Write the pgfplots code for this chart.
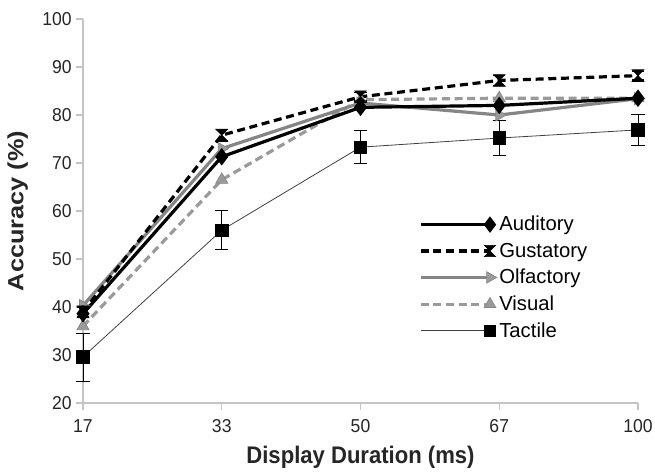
\documentclass[border=0pt]{standalone}
\usepackage{pgfplots}
\pgfplotsset{compat=1.18}
\usepackage{fontspec}
\setmainfont{Liberation Sans}
\newfontfamily\narrowfont{Liberation Sans}[FakeStretch=0.92]
\newfontfamily\tickfont{Liberation Sans}[FakeStretch=0.94]
\definecolor{axgray}{HTML}{C4C4C4}
\definecolor{olf}{HTML}{858585}
\definecolor{vis}{HTML}{9A9A9A}
\pgfdeclareplotmark{hourglass}{%
  \pgfpathmoveto{\pgfqpoint{-\pgfplotmarksize}{\pgfplotmarksize}}%
  \pgfpathlineto{\pgfqpoint{\pgfplotmarksize}{\pgfplotmarksize}}%
  \pgfpathlineto{\pgfqpoint{-\pgfplotmarksize}{-\pgfplotmarksize}}%
  \pgfpathlineto{\pgfqpoint{\pgfplotmarksize}{-\pgfplotmarksize}}%
  \pgfpathclose\pgfusepathqfillstroke}
\begin{document}
\begin{tikzpicture}
\path[use as bounding box] (-62.25pt,-51.75pt) rectangle (429pt,302.25pt);
\begin{axis}[
  scale only axis, width=416.25pt, height=288pt,
  xmin=0, xmax=4, ymin=20, ymax=100,
  xtick={0,1,2,3,4}, xticklabels={17,33,50,67,100},
  ytick={20,30,...,100},
  axis x line*=bottom, axis y line*=left,
  axis line style={axgray, line width=0.8pt, -},
  tick style={axgray, line width=0.8pt},
  tick align=outside, major tick length=5pt,
  /pgf/number format/assume math mode=true,
  ticklabel style={font=\tickfont\fontsize{14}{16}\selectfont, text=black!85},
  xticklabel style={yshift=-4pt},
  xlabel={\bfseries Display Duration (ms)},
  ylabel={\bfseries\scalebox{1.15}[1]{Accuracy (\%)}},
  label style={font=\fontsize{16.5}{18}\selectfont\bfseries, text=black!85},
  xlabel style={yshift=-3pt, font=\narrowfont\fontsize{18}{20}\selectfont\bfseries},
  ylabel style={yshift=4pt},
  clip=false,
]
% Tactile (drawn first, underneath)
\addplot[black!75, line width=0.6pt, mark=square*, mark size=4.7pt,
  mark options={solid, fill=black, draw=black},
  error bars/.cd, y dir=both, y explicit,
  error bar style={black, line width=0.6pt}, error mark options={rotate=90, mark size=5pt, black, line width=0.6pt}]
  coordinates {(0,29.6) +- (0,5.0) (1,56.0) +- (0,4.1) (2,73.3) +- (0,3.4) (3,75.2) +- (0,3.6) (4,76.9) +- (0,3.2)};
% Visual
\addplot[vis, line width=2.4pt, dash pattern=on 6pt off 3.5pt, mark=triangle*, mark size=5.2pt,
  mark options={solid, fill=vis, draw=olf, line width=0.5pt}]
  coordinates {(0,36.0) (1,66.5) (2,83.2) (3,83.5) (4,83.5)};
% Olfactory
\addplot[olf, line width=2.4pt, mark=triangle*, mark size=5.2pt,
  mark options={solid, fill=vis, draw=olf, rotate=-90, line width=0.5pt}]
  coordinates {(0,40.3) (1,73.0) (2,82.5) (3,80.0) (4,83.4)};
% Auditory
\addplot[black, line width=2.4pt, mark=diamond*, mark size=4.6pt,
  mark options={solid, fill=black}]
  coordinates {(0,38.6) (1,71.3) (2,81.6) (3,82.0) (4,83.5)};
% Gustatory
\addplot[black, line width=2.4pt, dash pattern=on 6pt off 3.5pt, mark=hourglass, mark size=4.4pt,
  mark options={solid, fill=black, line width=0.5pt},
  error bars/.cd, y dir=both, y explicit,
  error bar style={black, line width=0.6pt, solid}, error mark options={rotate=90, mark size=4.6pt, black, line width=1pt}]
  coordinates {(0,39.0) +- (0,1.0) (1,75.8) +- (0,1.2) (2,83.8) +- (0,0.9) (3,87.2) +- (0,1.0) (4,88.2) +- (0,0.9)};
\end{axis}
\begin{axis}[
  scale only axis, width=416.25pt, height=288pt,
  xmin=0, xmax=4, ymin=20, ymax=100, hide axis,
  legend style={draw=none, fill=none, at={(0.605,0.494)}, anchor=north west,
    font=\fontsize{15.2}{17}\selectfont, row sep=3.5pt, inner sep=0pt,
    /tikz/every even column/.append style={column sep=2pt}},
  legend cell align=left,
  legend image code/.code={\draw[mark repeat=2,mark phase=2,#1] plot coordinates {(0pt,0pt)(52pt,0pt)};},
]
\addlegendimage{black, line width=2.4pt, mark=diamond*, mark size=4.2pt, mark options={solid, fill=black}}
\addlegendentry{Auditory}
\addlegendimage{black, line width=2.4pt, dash pattern=on 6pt off 3.5pt, mark=hourglass, mark size=4.2pt, mark options={solid, fill=black, line width=0.5pt}}
\addlegendentry{Gustatory}
\addlegendimage{olf, line width=2.4pt, mark=triangle*, mark size=5pt, mark options={solid, fill=vis, draw=olf, rotate=-90, line width=0.5pt}}
\addlegendentry{Olfactory}
\addlegendimage{vis, line width=2.4pt, dash pattern=on 6pt off 3.5pt, mark=triangle*, mark size=5pt, mark options={solid, fill=vis, draw=olf, line width=0.5pt}}
\addlegendentry{Visual}
\addlegendimage{black!75, line width=0.6pt, mark=square*, mark size=4.2pt, mark options={solid, fill=black, draw=black}}
\addlegendentry{Tactile}
\end{axis}
\end{tikzpicture}
\end{document}
